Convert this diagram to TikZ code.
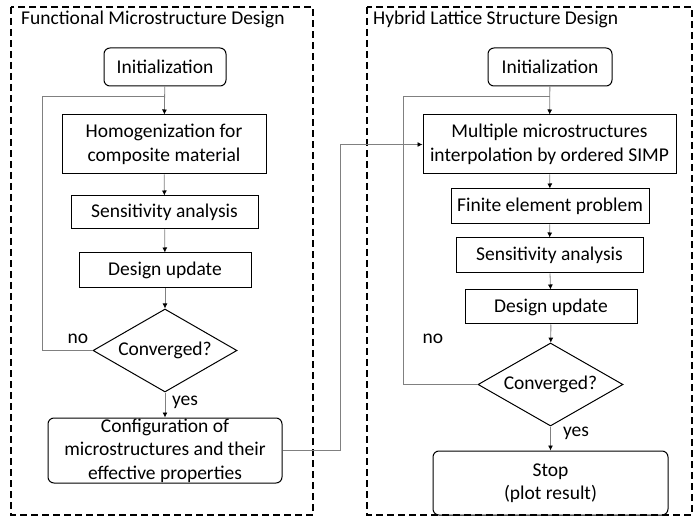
\documentclass[tikz,border=0pt]{standalone}
\usepackage{fontspec}
\setmainfont{Carlito}
\usepackage{tikz}
\usetikzlibrary{shapes.geometric}
\usetikzlibrary{arrows.meta}
\tikzstyle{block} = [draw, line width=1pt, inner sep=0pt, align=center, font=\fontsize{19.5}{23.5}\selectfont]
\tikzstyle{rblock} = [block, rounded corners=6pt]
\tikzstyle{decision} = [draw, diamond, line width=1pt, inner sep=0pt, aspect=1.74, font=\fontsize{19.5}{23.5}\selectfont]
\tikzstyle{frame} = [draw, line width=1.2pt, dash pattern=on 7pt off 4pt]
\tikzstyle{arrow} = [draw=black!50, line width=0.8pt, -{Latex[length=5pt,width=5pt,color=black]}]
\tikzstyle{line} = [draw=black!50, line width=0.8pt]

\begin{document}
\begin{tikzpicture}[x=1pt,y=-1pt,font=\fontsize{19.5}{23.5}\selectfont]
\useasboundingbox (0,0) rectangle (693,518);

% Frames
\draw[frame] (11,7) rectangle (313,515);
\draw[frame] (367,7) rectangle (692,515);
\node[anchor=west, inner sep=0pt] (titleL) at (21,19) {Functional Microstructure Design};
\node[anchor=west, inner sep=0pt] (titleR) at (373,19) {Hybrid Lattice Structure Design};

% Nodes (left)
\node[rblock, minimum width=122pt, minimum height=38pt] (initL) at (165,67) {Initialization};
\node[block, minimum width=204pt, minimum height=59pt] (homL) at (164,144.5) {Homogenization for\\composite material};
\node[block, minimum width=187pt, minimum height=33pt] (sensL) at (164.5,212.5) {Sensitivity analysis};
\node[block, minimum width=172pt, minimum height=35pt] (updL) at (165,270.5) {Design update};
\node[decision, minimum width=144pt, minimum height=83pt] (convL) at (165,350.5) {Converged?};
\node[rblock, minimum width=234pt, minimum height=65pt] (confL) at (165,450.5) {Configuration of\\microstructures and their\\effective properties};

% Nodes (right)
\node[rblock, minimum width=124pt, minimum height=38pt] (initR) at (550,67) {Initialization};
\node[block, minimum width=253pt, minimum height=59pt] (multR) at (549.5,144.5) {Multiple microstructures\\interpolation by ordered SIMP};
\node[block, minimum width=198pt, minimum height=35pt] (feR) at (550,206.5) {Finite element problem};
\node[block, minimum width=187pt, minimum height=35pt] (sensR) at (549.5,255.5) {Sensitivity analysis};
\node[block, minimum width=172pt, minimum height=34pt] (updR) at (551,307) {Design update};
\node[decision, minimum width=145pt, minimum height=83pt] (convR) at (550.5,384.5) {Converged?};
\node[rblock, minimum width=235pt, minimum height=64pt] (stopR) at (550.5,483) {Stop\\(plot result)};

% Labels
\node (noL) at (78,339) {no};
\node (yesL) at (185,402) {yes};
\node (noR) at (433,339) {no};
\node (yesR) at (576,433) {yes};

% Joints
\coordinate (jL) at (165,96);
\coordinate (cornL) at (42,96);
\coordinate (jR) at (550,96);
\coordinate (cornR) at (403,96);
\coordinate (bus) at (340,0);

% Edges (left)
\draw[arrow] (initL) -- (homL);
\draw[arrow] (homL) -- (sensL);
\draw[arrow] (sensL) -- (updL);
\draw[arrow] (updL) -- (convL);
\draw[arrow] (convL) -- (confL);
\draw[line] (convL.west) -| (cornL) -- (jL);

% Edges (right)
\draw[arrow] (initR) -- (multR);
\draw[arrow] (multR) -- (feR);
\draw[arrow] (feR) -- (sensR);
\draw[arrow] (sensR) -- (updR);
\draw[arrow] (updR) -- (convR);
\draw[arrow] (convR) -- (stopR);
\draw[line] (convR.west) -| (cornR) -- (jR);

% Between the two parts
\draw[arrow] (confL.east) -| (bus |- multR.west) -- (multR.west);

\end{tikzpicture}
\end{document}
